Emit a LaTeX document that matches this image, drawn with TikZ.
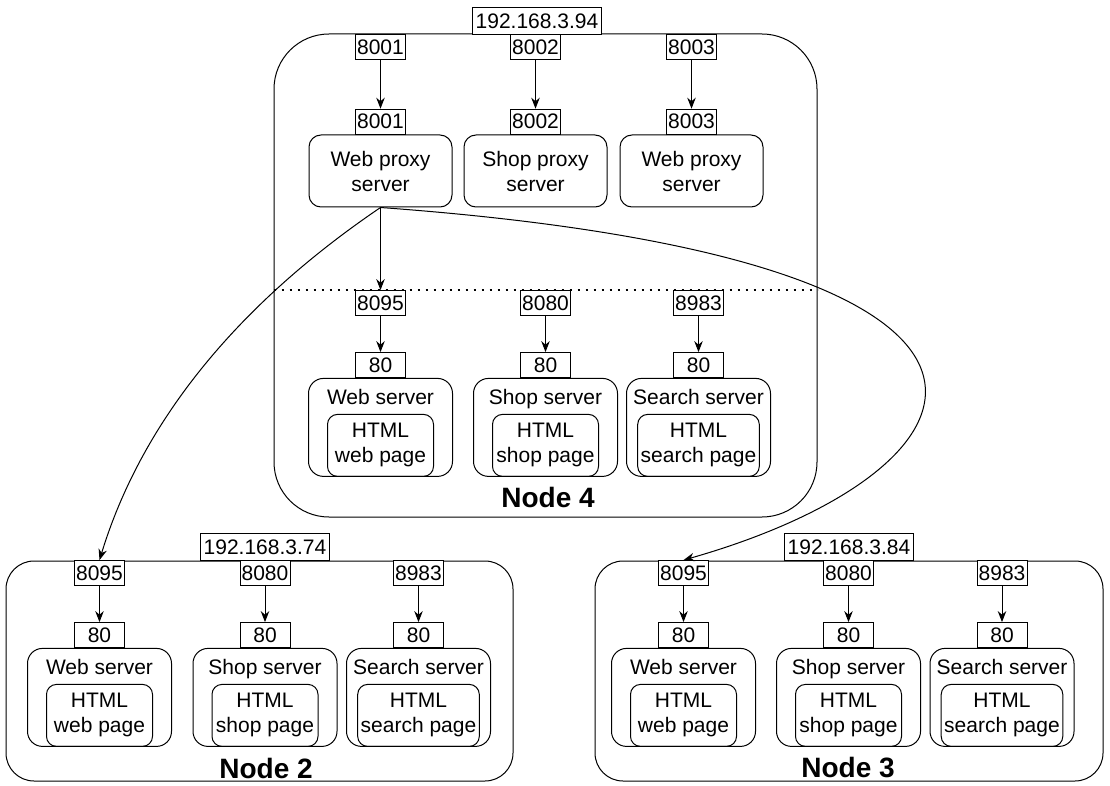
\documentclass[tikz,border=0pt]{standalone}
\usepackage{fontspec}
\setmainfont{Liberation Sans}
\usetikzlibrary{arrows.meta}

\tikzset{
  port/.style={draw, fill=white, line width=0.8pt, minimum width=50pt, minimum height=25pt, inner sep=1pt, font=\fontsize{21}{23}\selectfont},
  ipbox/.style={draw, fill=white, line width=0.8pt, minimum height=27pt, inner sep=3pt, font=\fontsize{21}{23}\selectfont},
  proxy/.style={draw, rounded corners=12pt, line width=1pt, minimum width=143pt, minimum height=72pt, align=center, font=\fontsize{21}{25}\selectfont},
  server/.style={draw, rounded corners=15pt, line width=1pt, minimum width=144pt, minimum height=98pt},
  page/.style={draw, rounded corners=10pt, line width=1pt, minimum width=106pt, minimum height=62pt, inner sep=3pt, align=center, font=\fontsize{21}{25}\selectfont},
  title/.style={inner sep=0pt, text height=15pt, text depth=5pt, font=\fontsize{21}{25}\selectfont},
  host/.style={draw, line width=1pt, inner sep=0pt},
  hostname/.style={font=\bfseries\fontsize{28}{30}\selectfont},
  link/.style={-{Stealth[length=11pt,width=8.5pt]}, line width=1pt},
}

\begin{document}
\begin{tikzpicture}[x=1pt, y=-1pt]
    \useasboundingbox (0,0) rectangle (1110,786);
    % hosts
    \node[host, rounded corners=55pt, minimum width=543pt, minimum height=483pt] (node4) at (545.5,275.5) {};
    \node[host, rounded corners=28pt, minimum width=507pt, minimum height=220pt] (node2) at (259.5,671) {};
    \node[host, rounded corners=28pt, minimum width=508pt, minimum height=220pt] (node3) at (849,671) {};
    \node[ipbox] (ip4) at (537,21) {192.168.3.94};
    \node[ipbox] (ip2) at (265,547) {192.168.3.74};
    \node[ipbox] (ip3) at (849,547) {192.168.3.84};
    \node[hostname] (lbl4) at (548,497) {Node 4};
    \node[hostname] (lbl2) at (266,768) {Node 2};
    \node[hostname] (lbl3) at (848,768) {Node 3};

    % proxies on node 4
    \node[proxy] (prx1) at (380.5,171) {Web proxy\\server};
    \node[proxy] (prx2) at (535.5,171) {Shop proxy\\server};
    \node[proxy] (prx3) at (691.5,171) {Web proxy\\server};
    \node[port] (ext1) at (380.5,47) {8001};
    \node[port] (ext2) at (535.5,47) {8002};
    \node[port] (ext3) at (691.5,47) {8003};
    \node[port, anchor=south] (int1) at (prx1.north) {8001};
    \node[port, anchor=south] (int2) at (prx2.north) {8002};
    \node[port, anchor=south] (int3) at (prx3.north) {8003};
    \draw[link] (ext1) -- (int1);
    \draw[link] (ext2) -- (int2);
    \draw[link] (ext3) -- (int3);

    % servers
    \foreach \nm/\px/\py/\pn/\ttl/\pg in {
        w4/380.5/365/8095/Web server/web page,
        s4/545.5/365/8080/Shop server/shop page,
        q4/698.5/365/8983/Search server/search page,
        w2/99.5/635/8095/Web server/web page,
        s2/265/635/8080/Shop server/shop page,
        q2/418.5/635/8983/Search server/search page,
        w3/683.5/635/8095/Web server/web page,
        s3/848.5/635/8080/Shop server/shop page,
        q3/1002/635/8983/Search server/search page} {
      \node[port] (\nm-in) at (\px,\py-62) {\pn};
      \node[port] (\nm-80) at (\px,\py) {80};
      \node[server, anchor=north] (\nm-srv) at (\nm-80.south) {};
      \node[title] (\nm-ttl) at ([yshift=-22pt]\nm-srv.north) {\ttl};
      \node[page, anchor=south] (\nm-page) at (\nm-srv.south) {HTML\\\pg};
      \draw[link] (\nm-in) -- (\nm-80);
    }

    \draw[line width=2pt, dash pattern=on 2pt off 6pt] (node4.west |- w4-in.north) -- (node4.east |- w4-in.north);
    \draw[link] (prx1.south) -- (w4-in.north);
    \draw[link] (prx1.south) .. controls (200,330) and (130,460) .. (w2-in.north);
    \draw[link] (prx1.south) .. controls (1100,260) and (1000,470) .. (w3-in.north);
\end{tikzpicture}
\end{document}
